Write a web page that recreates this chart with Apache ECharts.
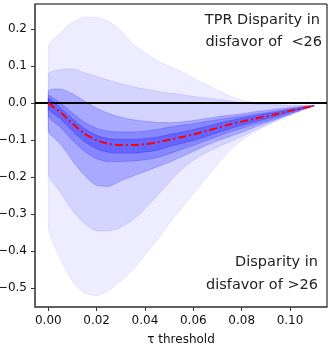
<!DOCTYPE html>
<html><head><meta charset="utf-8">
<script src="https://cdn.jsdelivr.net/npm/echarts@6/dist/echarts.min.js"></script>
<style>html,body{margin:0;padding:0;background:#fff}#c{width:332px;height:348px}</style>
</head><body><div id="c"></div>
<script>
// tau thresholds
var xs = [0,0.005,0.01,0.015,0.02,0.025,0.03,0.035,0.04,0.045,0.05,0.055,0.06,0.065,0.07,0.075,0.08,0.085,0.09,0.095,0.1,0.105,0.11];
// median disparity
var median = [0,-0.025,-0.055,-0.082,-0.100,-0.110,-0.113,-0.113,-0.111,-0.106,-0.099,-0.092,-0.085,-0.076,-0.067,-0.058,-0.050,-0.043,-0.036,-0.029,-0.021,-0.014,-0.007];
// band 1 (outermost)
var b1Upper = [0.151,0.19,0.218,0.232,0.232,0.22,0.195,0.16,0.137,0.115,0.10,0.085,0.068,0.052,0.035,0.02,0.008,0.002,-0.002,-0.004,-0.005,-0.006,-0.007];
var b1Lower = [-0.334,-0.42,-0.48,-0.512,-0.52,-0.505,-0.48,-0.45,-0.41,-0.37,-0.325,-0.285,-0.245,-0.205,-0.165,-0.128,-0.10,-0.08,-0.062,-0.047,-0.033,-0.02,-0.007];
// band 2
var b2Upper = [0.077,0.09,0.092,0.082,0.072,0.062,0.052,0.044,0.038,0.032,0.027,0.023,0.018,0.014,0.01,0.006,0.001,-0.002,-0.004,-0.005,-0.006,-0.006,-0.007];
var b2Lower = [-0.19,-0.24,-0.29,-0.325,-0.345,-0.345,-0.335,-0.315,-0.285,-0.25,-0.215,-0.18,-0.155,-0.135,-0.119,-0.105,-0.09,-0.075,-0.06,-0.045,-0.032,-0.019,-0.007];
// band 3
var b3Upper = [0.032,0.038,0.025,0.005,-0.014,-0.028,-0.038,-0.045,-0.049,-0.052,-0.053,-0.051,-0.047,-0.042,-0.037,-0.033,-0.029,-0.024,-0.020,-0.016,-0.012,-0.009,-0.007];
var b3Lower = [-0.075,-0.11,-0.155,-0.195,-0.222,-0.225,-0.21,-0.197,-0.185,-0.172,-0.16,-0.145,-0.13,-0.115,-0.102,-0.09,-0.079,-0.066,-0.054,-0.042,-0.030,-0.018,-0.007];
// band 4
var b4Upper = [0.021,0.000,-0.027,-0.052,-0.068,-0.076,-0.078,-0.078,-0.076,-0.071,-0.065,-0.060,-0.056,-0.050,-0.045,-0.040,-0.035,-0.030,-0.026,-0.021,-0.016,-0.011,-0.007];
var b4Lower = [-0.035,-0.065,-0.100,-0.130,-0.150,-0.158,-0.158,-0.156,-0.153,-0.147,-0.137,-0.125,-0.114,-0.102,-0.090,-0.078,-0.068,-0.058,-0.049,-0.039,-0.028,-0.017,-0.007];
// band 5 (innermost)
var b5Upper = [0.012,-0.013,-0.042,-0.069,-0.087,-0.096,-0.098,-0.098,-0.096,-0.092,-0.085,-0.079,-0.072,-0.064,-0.056,-0.048,-0.041,-0.035,-0.029,-0.024,-0.017,-0.012,-0.007];
var b5Lower = [-0.015,-0.042,-0.075,-0.104,-0.123,-0.133,-0.135,-0.135,-0.132,-0.127,-0.117,-0.109,-0.101,-0.091,-0.080,-0.069,-0.060,-0.051,-0.043,-0.034,-0.024,-0.015,-0.007];
// tick labels
var xTicks = [0,0.02,0.04,0.06,0.08,0.10];
var yTicks = [-0.5,-0.4,-0.3,-0.2,-0.1,0,0.1,0.2];

var bands = [
  {u:b1Upper, l:b1Lower, a:0.07},
  {u:b2Upper, l:b2Lower, a:0.10},
  {u:b3Upper, l:b3Lower, a:0.20},
  {u:b4Upper, l:b4Lower, a:0.20},
  {u:b5Upper, l:b5Lower, a:0.25}
];
var FONT = 'DejaVu Sans';
function fmtNum(v, d){ var s = Math.abs(v).toFixed(d); return (v < 0 ? '\u2212' : '') + s; }

var series = bands.map(function(b, k){
  return {
    type:'custom', coordinateSystem:'cartesian2d', silent:true, z:1+k,
    data:[[0,0]],
    renderItem:function(params, api){
      var pts = [];
      for (var i=0;i<xs.length;i++) pts.push(api.coord([xs[i], b.u[i]]));
      for (var j=xs.length-1;j>=0;j--) pts.push(api.coord([xs[j], b.l[j]]));
      var mn = [Infinity, Infinity], mx = [-Infinity, -Infinity];
      pts.forEach(function(p){
        mn[0]=Math.min(mn[0],p[0]); mn[1]=Math.min(mn[1],p[1]);
        mx[0]=Math.max(mx[0],p[0]); mx[1]=Math.max(mx[1],p[1]);
      });
      var c = 'rgba(0,0,255,'+b.a+')';
      return {type:'polygon', shape:{points:pts, smooth:0.3, smoothConstraint:[mn, mx]},
        style:{fill:c, stroke:c, lineWidth:1}};
    }
  };
});
series.push({
  type:'line', data:[], silent:true, z:8,
  markLine:{silent:true, symbol:'none', label:{show:false},
    lineStyle:{color:'#000', width:2, type:'solid'}, data:[{yAxis:0}]}
});
series.push({
  type:'line', silent:true, symbol:'none', smooth:0.3,
  data: xs.map(function(x,i){return [x, median[i]];}),
  lineStyle:{color:'#ff0000', width:2, type:[8,3,2,3]}, z:9
});

var chart = echarts.init(document.getElementById('c'), null, {renderer:'canvas'});
chart.setOption({
  animation:false,
  backgroundColor:'#fff',
  grid:{left:35, right:5, top:4, bottom:41, containLabel:false, outerBoundsMode:'none',
    show:true, borderColor:'#000', borderWidth:1, backgroundColor:'transparent'},
  xAxis:{type:'value', min:-0.0055, max:0.1153,
    axisLine:{show:true, onZero:false, lineStyle:{color:'#555', width:1.5}},
    axisTick:{show:true, customValues:xTicks, length:4, lineStyle:{color:'#333', width:1}},
    axisLabel:{customValues:xTicks, margin:8, fontSize:12, fontFamily:FONT, color:'#111',
      formatter:function(v){return fmtNum(v,2);}},
    splitLine:{show:false},
    name:'\u03c4 threshold', nameLocation:'middle', nameGap:27,
    nameTextStyle:{fontSize:12, fontFamily:FONT, color:'#111'}
  },
  yAxis:{type:'value', min:-0.5505, max:0.2675,
    axisLine:{show:true, onZero:false, lineStyle:{color:'#555', width:1.5}},
    axisTick:{show:true, customValues:yTicks, length:4, lineStyle:{color:'#333', width:1}},
    axisLabel:{customValues:yTicks, margin:8, fontSize:12, fontFamily:FONT, color:'#111',
      formatter:function(v){return fmtNum(v,1);}},
    splitLine:{show:false}
  },
  graphic:[
    {type:'text', right:12, top:13, style:{text:'TPR Disparity in', font:'14.5px "DejaVu Sans"', fill:'#222'}},
    {type:'text', right:10, top:35, style:{text:'disfavor of  <26', font:'14.5px "DejaVu Sans"', fill:'#222'}},
    {type:'text', right:14, top:255, style:{text:'Disparity in', font:'14.5px "DejaVu Sans"', fill:'#222'}},
    {type:'text', right:14, top:278, style:{text:'disfavor of >26', font:'14.5px "DejaVu Sans"', fill:'#222'}}
  ],
  series:series
});
</script></body></html>
